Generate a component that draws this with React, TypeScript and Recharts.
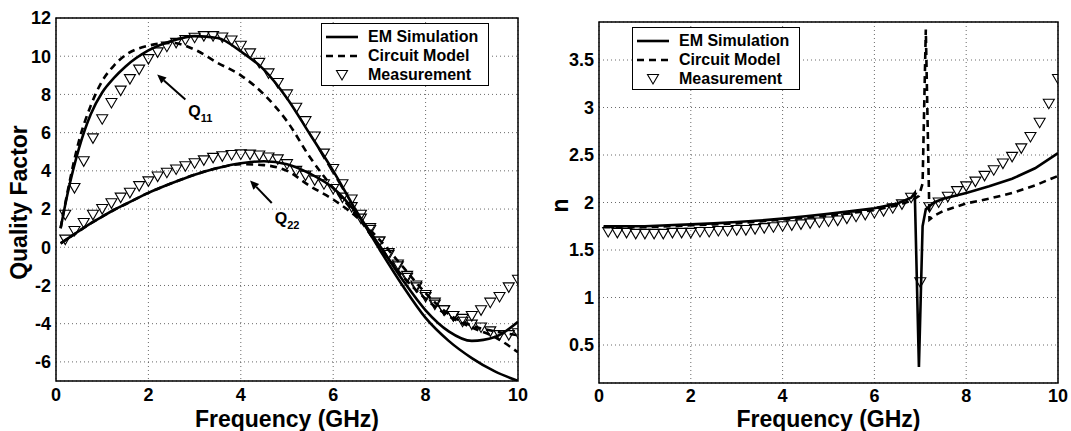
import React from 'react';
import {
    ComposedChart, Line, XAxis, YAxis, CartesianGrid, Legend, ReferenceArea, ReferenceLine
} from 'recharts';

const FONT = '"Liberation Sans", Arial, Helvetica, sans-serif';

// ---- left plot: quality factor ----
const simFreq = [0.1, 0.25, 0.5, 0.75, 1, 1.25, 1.5, 2, 2.5, 3, 3.5, 4, 4.5, 5, 5.5, 6, 6.5, 7, 7.5, 8, 8.5, 9, 9.5, 10];
const q11Em = [1.0, 2.8, 5.2, 6.95, 8.1, 8.85, 9.45, 10.3, 10.8, 11.05, 10.95, 10.25, 9.3, 7.8, 5.9, 4.0, 1.9, -0.1, -2.0, -3.7, -4.9, -5.8, -6.5, -7.0];
const q11Circ = [1.0, 2.9, 5.6, 7.4, 8.7, 9.5, 10.05, 10.55, 10.7, 10.35, 9.65, 9.0, 8.0, 6.6, 4.7, 3.1, 1.7, 0.0, -1.5, -2.7, -3.6, -4.2, -4.7, -5.5];
const q22Em = [0.2, 0.45, 0.85, 1.25, 1.6, 1.95, 2.25, 2.85, 3.35, 3.8, 4.15, 4.4, 4.5, 4.35, 3.85, 3.1, 1.8, 0.1, -1.7, -3.3, -4.4, -4.9, -4.7, -3.9];
const q22Circ = [0.2, 0.45, 0.85, 1.25, 1.6, 1.95, 2.25, 2.85, 3.35, 3.8, 4.15, 4.35, 4.3, 4.0, 3.2, 2.5, 1.6, 0.4, -1.0, -2.4, -3.5, -4.1, -4.4, -4.6];

const measFreq = [0.2, 0.4, 0.6, 0.8, 1.0, 1.2, 1.4, 1.6, 1.8, 2.0, 2.2, 2.4, 2.6, 2.8, 3.0, 3.2, 3.4, 3.6, 3.8, 4.0,
    4.2, 4.4, 4.6, 4.8, 5.0, 5.2, 5.4, 5.6, 5.8, 6.0, 6.2, 6.4, 6.6, 6.8, 7.0, 7.2, 7.4, 7.6, 7.8, 8.0,
    8.2, 8.4, 8.6, 8.8, 9.0, 9.2, 9.4, 9.6, 9.8, 10.0];
const q11Meas = [1.7, 3.1, 4.5, 5.7, 6.7, 7.55, 8.2, 8.8, 9.3, 9.85, 10.2, 10.5, 10.7, 10.85, 10.97, 11.05, 11.05, 10.98, 10.82, 10.55,
    10.15, 9.65, 9.1, 8.6, 8.0, 7.3, 6.6, 5.8, 4.9, 4.1, 3.3, 2.5, 1.7, 1.0, 0.3, -0.4, -1.0, -1.6, -2.1, -2.6,
    -3.0, -3.3, -3.6, -3.9, -4.05, -4.2, -4.4, -4.6, -4.6, -4.5];
const q22Meas = [0.4, 0.85, 1.27, 1.7, 2.0, 2.3, 2.6, 2.85, 3.2, 3.45, 3.7, 3.9, 4.07, 4.24, 4.4, 4.55, 4.68, 4.76, 4.83, 4.86,
    4.85, 4.8, 4.7, 4.6, 4.35, 4.0, 3.75, 3.5, 3.3, 3.05, 2.6, 2.1, 1.5, 0.9, 0.3, -0.3, -0.9, -1.5, -2.0, -2.5,
    -2.9, -3.3, -3.6, -3.75, -3.6, -3.3, -2.9, -2.6, -2.1, -1.7];

// ---- right plot: n ----
const nFreq = [0.1, 0.5, 1, 1.5, 2, 2.5, 3, 3.5, 4, 4.5, 5, 5.5, 6, 6.5, 6.8, 6.88, 6.97, 7.05, 7.12, 7.2, 7.3, 7.5, 8, 8.5, 9, 9.5, 10];
const nEm = [1.75, 1.75, 1.75, 1.76, 1.77, 1.78, 1.795, 1.81, 1.83, 1.855, 1.88, 1.91, 1.94, 1.99, 2.05, 2.1, 0.27, 1.75, 1.93, 1.96, 2.0, 2.04, 2.1, 2.17, 2.25, 2.36, 2.52];
const nCirc = [1.74, 1.74, 1.74, 1.75, 1.76, 1.77, 1.78, 1.8, 1.82, 1.84, 1.86, 1.89, 1.92, 1.97, 2.02, 2.04, 2.07, 2.2, 3.82, 1.82, 1.86, 1.91, 1.99, 2.04, 2.1, 2.18, 2.28];
const nMeas = [1.69, 1.68, 1.68, 1.67, 1.67, 1.67, 1.67, 1.68, 1.68, 1.68, 1.69, 1.69, 1.7, 1.7, 1.71, 1.71, 1.72, 1.73, 1.74, 1.75,
    1.76, 1.77, 1.78, 1.79, 1.8, 1.81, 1.83, 1.85, 1.87, 1.89, 1.91, 1.94, 1.98, 2.05, 1.16, 1.95, 2.0, 2.06, 2.12, 2.17,
    2.22, 2.28, 2.34, 2.41, 2.48, 2.57, 2.69, 2.84, 3.04, 3.3];

const freqTicks = [0, 2, 4, 6, 8, 10];
const qTicks = [-6, -4, -2, 0, 2, 4, 6, 8, 10, 12];
const nTicks = [0.5, 1, 1.5, 2, 2.5, 3, 3.5];

const pts = (xs: number[], ys: number[]) => xs.map((f, i) => ({f, v: ys[i]}));

const tickStyle = {fontSize: 18, fontWeight: 'bold', fill: '#000', fontFamily: FONT};

const Tri = (props: any) => {
    const {cx, cy} = props;
    if (cx == null || cy == null) return null;
    return <polygon key={props.index} points={`${cx - 5.5},${cy - 4.5} ${cx + 5.5},${cy - 4.5} ${cx},${cy + 5}`}
                    fill="none" stroke="#000" strokeWidth={1.1}/>;
}

const arrowShape = (sub: string, dx: number, dy: number) => (props: any) => {
    const {x1, y1, x2, y2} = props;
    if (x1 == null) return <g/>;
    const a = Math.atan2(y2 - y1, x2 - x1);
    const L = 9, W = 4;
    const bx = x2 - L * Math.cos(a), by = y2 - L * Math.sin(a);
    const nx = -Math.sin(a) * W, ny = Math.cos(a) * W;
    return (
        <g>
            <line x1={x1} y1={y1} x2={bx} y2={by} stroke="#000" strokeWidth={2}/>
            <polygon points={`${x2},${y2} ${bx + nx},${by + ny} ${bx - nx},${by - ny}`} fill="#000"/>
            <text x={x1 + dx} y={y1 + dy} fontFamily={FONT} fontWeight="bold" fontSize={16} fill="#000">
                Q<tspan fontSize={11} dy={5}>{sub}</tspan>
            </text>
        </g>
    );
}

const LegendBox = () => (
    <div style={{
        width: 168, height: 63, boxSizing: 'border-box', border: '1.3px solid #000', background: '#fff',
        padding: '3px 0 0 2px', fontFamily: FONT, fontWeight: 'bold', fontSize: 16, color: '#000'
    }}>
        {[
            {name: 'EM Simulation', kind: 'solid'},
            {name: 'Circuit Model', kind: 'dash'},
            {name: 'Measurement', kind: 'tri'},
        ].map(r => (
            <div key={r.name} style={{display: 'flex', alignItems: 'center', height: 19}}>
                <svg width={36} height={14} style={{marginRight: 8}}>
                    {r.kind === 'solid' && <line x1={2} y1={7} x2={34} y2={7} stroke="#000" strokeWidth={2.6}/>}
                    {r.kind === 'dash' && <line x1={2} y1={7} x2={34} y2={7} stroke="#000" strokeWidth={2.6} strokeDasharray="7 5"/>}
                    {r.kind === 'tri' && <polygon points="12.5,2.5 23.5,2.5 18,12" fill="none" stroke="#000" strokeWidth={1.1}/>}
                </svg>
                <span>{r.name}</span>
            </div>
        ))}
    </div>
);

const yLabel = (text: string, dx: number, dy: number) => (props: any) => {
    const vb = props.viewBox;
    const cx = vb.x + dx, cy = vb.y + vb.height / 2 + dy;
    return <text x={cx} y={cy} transform={`rotate(-90, ${cx}, ${cy})`} textAnchor="middle" dominantBaseline="central"
                 fontFamily={FONT} fontWeight="bold" fontSize={23} fill="#000">{text}</text>;
}

const xLabel = (props: any) => {
    const vb = props.viewBox;
    return <text x={vb.x + vb.width / 2} y={vb.y + vb.height - 4} textAnchor="middle"
                 fontFamily={FONT} fontWeight="bold" fontSize={23} fill="#000">Frequency (GHz)</text>;
}

const QualityChart = () => (
    <ComposedChart width={540} height={431} margin={{top: 18, right: 22, bottom: 0, left: 10}}>
        <CartesianGrid stroke="#444" strokeDasharray="1 3" strokeWidth={0.8}/>
        <XAxis dataKey="f" type="number" domain={[0, 10]} ticks={freqTicks} allowDataOverflow height={50}
               axisLine={false} tickLine={false} tickSize={0} tickMargin={7} tick={tickStyle}
               label={{content: xLabel}}/>
        <YAxis dataKey="v" type="number" domain={[-7, 12]} ticks={qTicks} allowDataOverflow width={46}
               axisLine={false} tickLine={false} tickSize={0} tickMargin={5} tick={tickStyle}
               label={{content: yLabel('Quality Factor', 8.5, 3)}}/>
        <ReferenceArea x1={0} x2={10} y1={-7} y2={12} fill="none" stroke="#000" strokeWidth={1.5} ifOverflow="visible"/>
        <Line data={pts(simFreq, q11Em)} dataKey="v" type="monotone" stroke="#000" strokeWidth={2.6} dot={false} isAnimationActive={false}/>
        <Line data={pts(simFreq, q22Em)} dataKey="v" type="monotone" stroke="#000" strokeWidth={2.6} dot={false} isAnimationActive={false}/>
        <Line data={pts(simFreq, q11Circ)} dataKey="v" type="monotone" stroke="#000" strokeWidth={2.6} strokeDasharray="7 5" dot={false} isAnimationActive={false}/>
        <Line data={pts(simFreq, q22Circ)} dataKey="v" type="monotone" stroke="#000" strokeWidth={2.6} strokeDasharray="7 5" dot={false} isAnimationActive={false}/>
        <Line data={pts(measFreq, q11Meas)} dataKey="v" stroke="none" dot={(p: any) => <Tri key={p.index} {...p}/>} activeDot={false} isAnimationActive={false}/>
        <Line data={pts(measFreq, q22Meas)} dataKey="v" stroke="none" dot={(p: any) => <Tri key={p.index} {...p}/>} activeDot={false} isAnimationActive={false}/>
        <ReferenceLine segment={[{x: 2.8, y: 7.73}, {x: 2.19, y: 9.04}]} shape={arrowShape('11', 3, 17)}/>
        <ReferenceLine segment={[{x: 4.67, y: 2.32}, {x: 4.2, y: 3.5}]} shape={arrowShape('22', 3, 21)}/>
        <Legend layout="vertical" align="center" verticalAlign="middle"
                wrapperStyle={{left: 321, top: 23, width: 168, height: 63}}
                content={() => <LegendBox/>}/>
    </ComposedChart>
);

const IndexChart = () => (
    <ComposedChart width={531} height={431} margin={{top: 22, right: 13, bottom: 0, left: 10}}>
        <CartesianGrid stroke="#444" strokeDasharray="1 3" strokeWidth={0.8}/>
        <XAxis dataKey="f" type="number" domain={[0, 10]} ticks={freqTicks} allowDataOverflow height={48}
               axisLine={false} tickLine={false} tickSize={0} tickMargin={6} tick={tickStyle}
               label={{content: xLabel}}/>
        <YAxis dataKey="v" type="number" domain={[0.1, 3.9]} ticks={nTicks} allowDataOverflow width={49}
               axisLine={false} tickLine={false} tickSize={0} tickMargin={5} tick={tickStyle}
               label={{content: yLabel('n', 10, 3)}}/>
        <ReferenceArea x1={0} x2={10} y1={0.1} y2={3.9} fill="none" stroke="#000" strokeWidth={1.5} ifOverflow="visible"/>
        <Line data={pts(nFreq, nEm)} dataKey="v" type="linear" stroke="#000" strokeWidth={2.6} dot={false} isAnimationActive={false}/>
        <Line data={pts(nFreq, nCirc)} dataKey="v" type="linear" stroke="#000" strokeWidth={2.6} strokeDasharray="7 5" dot={false} isAnimationActive={false}/>
        <Line data={pts(measFreq, nMeas)} dataKey="v" stroke="none" dot={(p: any) => <Tri key={p.index} {...p}/>} activeDot={false} isAnimationActive={false}/>
        <Legend layout="vertical" align="center" verticalAlign="middle"
                wrapperStyle={{left: 92, top: 27, width: 168, height: 63}}
                content={() => <LegendBox/>}/>
    </ComposedChart>
);

export default function App() {
    return (
        <div style={{position: 'absolute', left: 0, top: 0, width: 1071, height: 431, background: '#fff'}}>
            <div style={{position: 'absolute', left: 0, top: 0}}><QualityChart/></div>
            <div style={{position: 'absolute', left: 540, top: 0}}><IndexChart/></div>
        </div>
    );
}
